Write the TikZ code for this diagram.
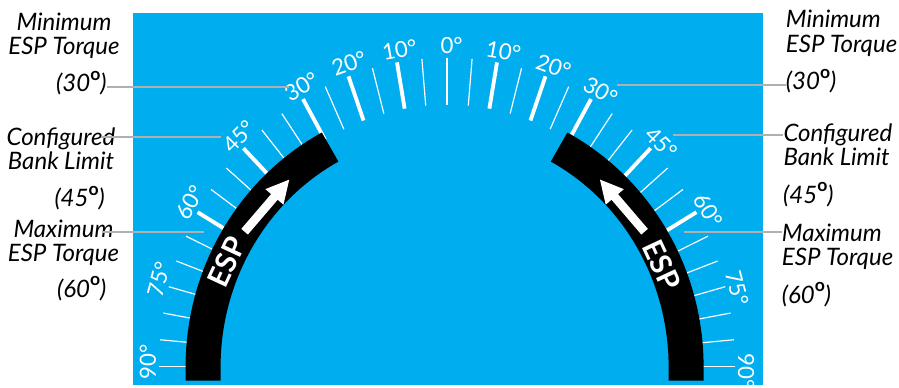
\documentclass[tikz,border=0pt]{standalone}
\usepackage{fontspec}
\setmainfont{Lato}
\usepackage{tikz}
\usetikzlibrary{arrows.meta, calc, positioning}

\definecolor{dialblue}{RGB}{0,173,239}
\definecolor{leadgray}{RGB}{176,176,176}
\newcommand{\ordo}{\raisebox{0.95ex}{\fontsize{15}{15}\selectfont\upshape\bfseries o}}

\begin{document}
\begin{tikzpicture}[x=0.03cm, y=0.03cm,
    minortick/.style={white, line width=1pt},
    majortick/.style={white, line width=3.3pt},
    scalelabel/.style={white, inner sep=0pt, font=\fontsize{19}{19}\selectfont},
    sidelabel/.style={inner sep=0pt, font=\fontsize{20.5}{20.8}\selectfont\itshape},
    leader/.style={leadgray, line width=1.6pt},
    esptext/.style={white, inner sep=0pt, font=\fontsize{25}{25}\selectfont\bfseries}]
  \useasboundingbox (-447,-20.3) rectangle (452,366.7);

  % Dial background
  \fill[dialblue] (-314,-18.3) rectangle (316.3,353.7);

  % Scale ticks (outer 288/309, inner 244/262)
  \foreach \t in {0,5,15,25,35,40,50,55,65,70,75,80,85,90} {
    \draw[minortick] ({90+\t}:288 and 309) -- ({90+\t}:244 and 262);
    \draw[minortick] ({90-\t}:288 and 309) -- ({90-\t}:244 and 262);
  }
  \foreach \t in {10,20,30,45,60} {
    \draw[majortick] ({90+\t}:288 and 309) -- ({90+\t}:244 and 262);
    \draw[majortick] ({90-\t}:288 and 309) -- ({90-\t}:244 and 262);
  }

  % Scale labels
  \node[scalelabel] (deg0) at (90:299 and 321) {0\rlap{°}};
  \foreach \t in {10,20,30,45,60,75,90} {
    \node[scalelabel, rotate=\t] (degL\t) at ({90+\t}:299 and 321) {\t\rlap{°}};
    \node[scalelabel, rotate=-\t] (degR\t) at ({90-\t}:299 and 321) {\t\rlap{°}};
  }

  % ESP bands with arrows
  \foreach \s in {1,-1} {
    \begin{scope}[shift={(-2.4,0)}, xscale=\s]
      \fill[black] (118.3:259 and 266)
        arc[start angle=118.3, end angle=180, x radius=259, y radius=266]
        -- (-259,-14) -- (-224,-14) -- (180:224 and 233)
        arc[start angle=180, end angle=118.3, x radius=224, y radius=233] -- cycle;
      \draw[white, line width=0.26cm, -{Triangle[width=0.66cm, length=0.7cm]}]
        (-200,135) -- (-155,187.5);
    \end{scope}
  }
  \node[esptext, rotate=65] (espL) at (-220.3,105) {ESP};
  \node[esptext, rotate=-65] (espR) at (214.7,101.7) {ESP};

  % Left callouts
  \node[sidelabel, align=center, anchor=north] (minL) at (-383,354.4) {Minimum\\ESP Torque};
  \node[sidelabel, anchor=base] (min30L) at (-365.6,275) {(30\ordo)};
  \node[sidelabel, align=center, anchor=north] (cfgL) at (-386,239) {Configured\\Bank Limit};
  \node[sidelabel, anchor=base] (bank45L) at (-367.3,160) {(45\ordo)};
  \node[sidelabel, align=center, anchor=north] (maxL) at (-383.5,147.4) {Maximum\\ESP Torque};
  \node[sidelabel, anchor=base] (max60L) at (-365.3,69.7) {(60\ordo)};

  % Right callouts
  \node[sidelabel, align=left, anchor=north west] (minR) at (338.7,356.7) {Minimum\\ESP Torque};
  \node[sidelabel, anchor=base west] (min30R) at (338.7,276.7) {(30\ordo)};
  \node[sidelabel, align=left, anchor=north west] (cfgR) at (336.3,243.4) {Configured\\Bank Limit};
  \node[sidelabel, anchor=base west] (bank45R) at (336,163.7) {(45\ordo)};
  \node[sidelabel, align=left, anchor=north west] (maxR) at (334.7,143.4) {Maximum\\ESP Torque};
  \node[sidelabel, anchor=base west] (max60R) at (334.7,63.4) {(60\ordo)};

  % Leader lines
  \coordinate (lead30L) at (-157.7,279.4);
  \coordinate (lead45L) at (-226.3,229.4);
  \coordinate (lead60L) at (-243,135);
  \coordinate (lead30R) at (170.3,281.4);
  \coordinate (lead45R) at (225.7,231.4);
  \coordinate (lead60R) at (237,135);
  \draw[leader] (min30L.east |- lead30L) -- (lead30L);
  \draw[leader] (lead45L) -- (cfgL.east |- lead45L) -- ++(-15,0);
  \draw[leader] (lead60L) -- (maxL.east |- lead60L) -- ++(-17,0);
  \draw[leader] (lead30R) -- (min30R.west |- lead30R);
  \draw[leader] (lead45R) -- (cfgR.west |- lead45R);
  \draw[leader] (lead60R) -- (maxR.west |- lead60R);
\end{tikzpicture}
\end{document}
